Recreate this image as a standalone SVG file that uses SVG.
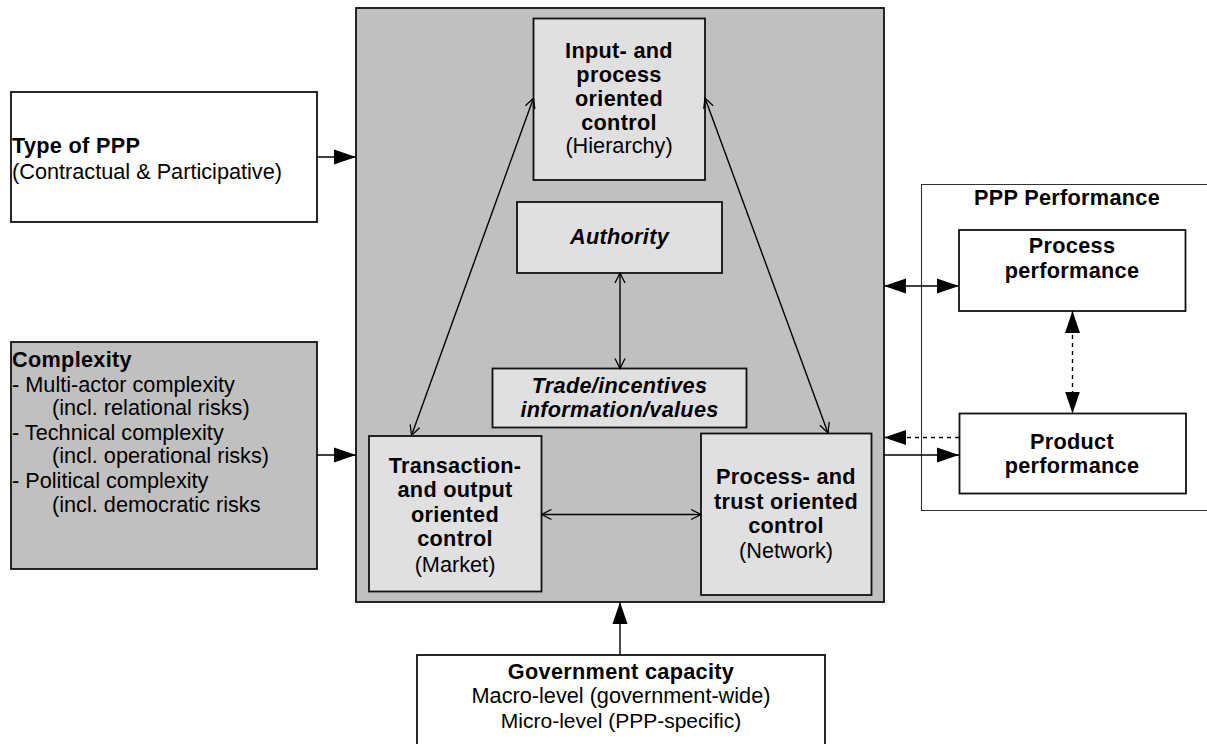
<svg xmlns="http://www.w3.org/2000/svg" width="1207" height="744" viewBox="0 0 1207 744">
  <style>
    text { font-family: "Liberation Sans", Arial, sans-serif; font-size: 21.7px; fill: #000; }
    .b { font-weight: bold; letter-spacing: 0.3px; }
    .bi { font-weight: bold; font-style: italic; letter-spacing: 0.3px; }
    .c { text-anchor: middle; }
    .box { stroke: #111; stroke-width: 1.8; }
    .white { fill: #fff; }
    .grey { fill: #c0c0c0; }
    .light { fill: #e0e0e0; }
    .thin { fill: none; stroke: #333; stroke-width: 1.1; }
    .link { fill: none; stroke: #000; stroke-width: 1.4; }
    .dash { stroke-dasharray: 4 4; }
  </style>
  <defs>
    <marker id="solidHead" markerUnits="userSpaceOnUse" markerWidth="24" markerHeight="18" refX="22" refY="8" orient="auto-start-reverse">
      <path d="M0,0.5 L22,8 L0,15.5 z" fill="#000"/>
    </marker>
    <marker id="openHead" markerUnits="userSpaceOnUse" markerWidth="12" markerHeight="12" refX="11" refY="6" orient="auto-start-reverse">
      <path d="M1,1 L11,6 L1,11" fill="none" stroke="#000" stroke-width="1.3"/>
    </marker>
  </defs>

  <!-- control mechanism frame -->
  <g id="control-frame">
    <rect class="box grey" x="356" y="8" width="528" height="594"/>
  </g>

  <!-- PPP performance container -->
  <g id="ppp-performance">
    <path class="thin" d="M1210,184.5 H921.5 V510.5 H1210"/>
    <text class="b c" x="1067" y="205">PPP Performance</text>
  </g>

  <g id="type-of-ppp">
    <rect class="box white" x="11" y="92" width="306" height="130"/>
    <text class="b" x="12" y="153">Type of PPP</text>
    <text x="12" y="179">(Contractual &amp; Participative)</text>
  </g>

  <g id="complexity">
    <rect class="box grey" x="11" y="342" width="306" height="227"/>
    <text class="b" x="12" y="367">Complexity</text>
    <text x="12" y="392">- Multi-actor complexity</text>
    <text x="52" y="415">(incl. relational risks)</text>
    <text x="12" y="440">- Technical complexity</text>
    <text x="52" y="463">(incl. operational risks)</text>
    <text x="12" y="488">- Political complexity</text>
    <text x="52" y="512">(incl. democratic risks</text>
  </g>

  <g id="hierarchy">
    <rect class="box light" x="533.5" y="18.5" width="171.5" height="161.5"/>
    <text class="b c" x="619" y="58">Input- and</text>
    <text class="b c" x="619" y="82">process</text>
    <text class="b c" x="619" y="106">oriented</text>
    <text class="b c" x="619" y="130">control</text>
    <text class="c" x="619" y="153">(Hierarchy)</text>
  </g>

  <g id="authority">
    <rect class="box light" x="517" y="202" width="205" height="71"/>
    <text class="bi c" x="619.5" y="244">Authority</text>
  </g>

  <g id="trade">
    <rect class="box light" x="492.5" y="368.5" width="254" height="59"/>
    <text class="bi c" x="619.5" y="393">Trade/incentives</text>
    <text class="bi c" x="619.5" y="417">information/values</text>
  </g>

  <g id="market">
    <rect class="box light" x="369" y="436" width="172.5" height="155.5"/>
    <text class="b c" x="455" y="473">Transaction-</text>
    <text class="b c" x="455" y="497">and output</text>
    <text class="b c" x="455" y="521.5">oriented</text>
    <text class="b c" x="455" y="546">control</text>
    <text class="c" x="455" y="571.5">(Market)</text>
  </g>

  <g id="network">
    <rect class="box light" x="701" y="433.5" width="170.5" height="161.5"/>
    <text class="b c" x="786" y="484">Process- and</text>
    <text class="b c" x="786" y="509">trust oriented</text>
    <text class="b c" x="786" y="533">control</text>
    <text class="c" x="786" y="558">(Network)</text>
  </g>

  <g id="process-performance">
    <rect class="box white" x="959" y="230" width="226.5" height="81"/>
    <text class="b c" x="1072" y="253">Process</text>
    <text class="b c" x="1072" y="278">performance</text>
  </g>

  <g id="product-performance">
    <rect class="box white" x="959.5" y="413.5" width="226.5" height="80"/>
    <text class="b c" x="1072" y="449">Product</text>
    <text class="b c" x="1072" y="473">performance</text>
  </g>

  <g id="government-capacity">
    <rect class="box white" x="417" y="655" width="408" height="100"/>
    <text class="b c" x="621" y="679">Government capacity</text>
    <text class="c" x="621" y="703">Macro-level (government-wide)</text>
    <text class="c" x="621" y="728" style="font-size:21px">Micro-level (PPP-specific)</text>
  </g>

  <!-- connectors -->
  <g id="connectors">
    <line class="link" x1="317" y1="157" x2="356" y2="157" marker-end="url(#solidHead)"/>
    <line class="link" x1="317" y1="455" x2="356" y2="455" marker-end="url(#solidHead)"/>
    <line class="link" x1="620" y1="655" x2="620" y2="602" marker-end="url(#solidHead)"/>

    <line class="link" x1="533.5" y1="98" x2="411.5" y2="435.5" stroke-width="1.2" marker-start="url(#openHead)" marker-end="url(#openHead)"/>
    <line class="link" x1="705" y1="98" x2="828" y2="433" stroke-width="1.2" marker-start="url(#openHead)" marker-end="url(#openHead)"/>
    <line class="link" x1="620" y1="273" x2="620" y2="368.5" marker-start="url(#openHead)" marker-end="url(#openHead)"/>
    <line class="link" x1="541.5" y1="514.5" x2="701" y2="514.5" marker-start="url(#openHead)" marker-end="url(#openHead)"/>

    <line class="link" x1="884" y1="286" x2="959" y2="286" marker-start="url(#solidHead)" marker-end="url(#solidHead)"/>
    <line class="link dash" x1="959" y1="437.5" x2="884" y2="437.5" marker-end="url(#solidHead)"/>
    <line class="link" x1="884" y1="455" x2="959" y2="455" marker-end="url(#solidHead)"/>
    <line class="link dash" x1="1072.5" y1="311" x2="1072.5" y2="413.5" marker-start="url(#solidHead)" marker-end="url(#solidHead)"/>
  </g>
</svg>
